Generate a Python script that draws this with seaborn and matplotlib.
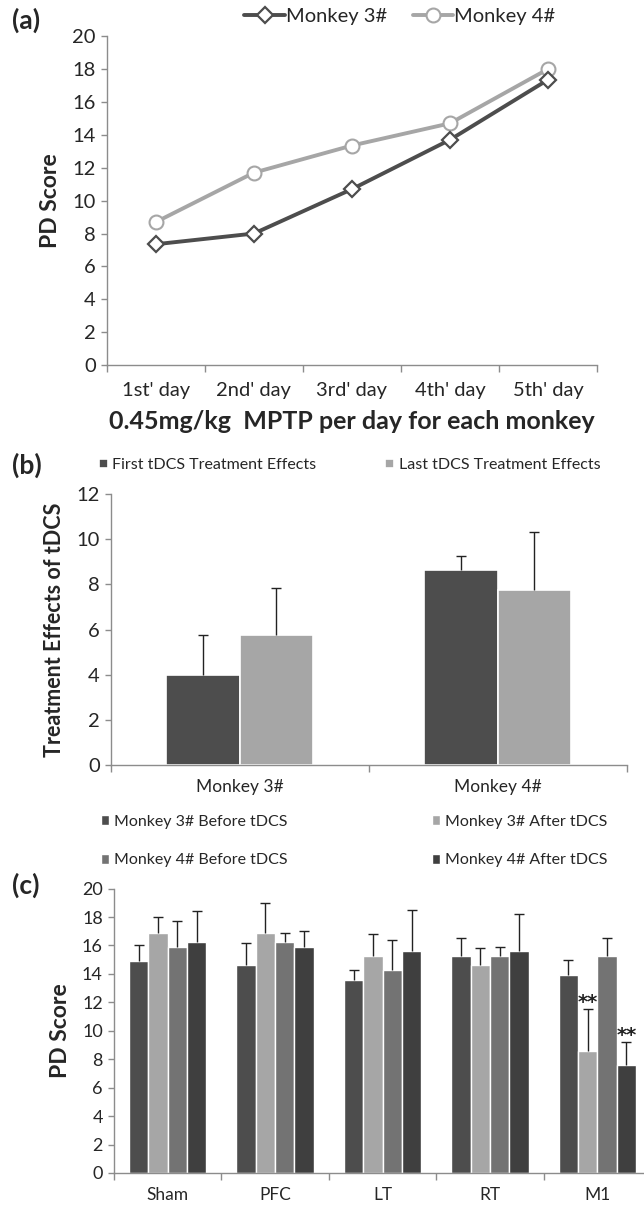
import pandas as pd
import matplotlib
matplotlib.use("Agg")
import matplotlib.pyplot as plt
import seaborn as sns
import numpy as np
from matplotlib.ticker import FixedLocator, MultipleLocator

sns.set_theme(style="white")
plt.rcParams['font.family'] = ['Lato', 'DejaVu Sans']

# --- data: panel (a) ---
days = ["1st' day", "2nd' day", "3rd' day", "4th' day", "5th' day"]
monkey3_pd = [7.35, 8.0, 10.7, 13.7, 17.35]
monkey4_pd = [8.7, 11.7, 13.35, 14.7, 18.0]

# --- data: panel (b) ---
monkeys = ["Monkey 3#", "Monkey 4#"]
first_effect = [4.0, 8.65]
first_err = [1.75, 0.6]
last_effect = [5.75, 7.75]
last_err = [2.07, 2.55]

# --- data: panel (c) ---
sites = ["Sham", "PFC", "LT", "RT", "M1"]
m3_before = [14.9, 14.6, 13.6, 15.25, 13.9]
m3_before_err = [1.1, 1.6, 0.65, 1.25, 1.1]
m3_after = [16.9, 16.9, 15.25, 14.6, 8.6]
m3_after_err = [1.1, 2.1, 1.55, 1.2, 2.9]
m4_before = [15.9, 16.25, 14.25, 15.25, 15.25]
m4_before_err = [1.8, 0.65, 2.15, 0.65, 1.25]
m4_after = [16.25, 15.9, 15.6, 15.6, 7.6]
m4_after_err = [2.15, 1.1, 2.9, 2.6, 1.6]

DARK = "#4d4d4d"
LIGHT = "#a6a6a6"
MID = "#737373"
DARKER = "#3f3f3f"
AXC = "#8c8c8c"


def style_axes(ax, ncat, ysize, xsize, xpad):
    for s in ["top", "right"]:
        ax.spines[s].set_visible(False)
    for s in ["left", "bottom"]:
        ax.spines[s].set_color(AXC)
        ax.spines[s].set_linewidth(1)
    ax.set_xlim(-0.5, ncat - 0.5)
    ax.xaxis.set_minor_locator(FixedLocator(np.arange(-0.5, ncat, 1.0)))
    ax.tick_params(axis="x", which="major", length=0, pad=xpad, labelsize=xsize)
    ax.tick_params(axis="x", which="minor", length=5, color=AXC, width=1, direction="out", bottom=True)
    ax.tick_params(axis="y", which="major", length=4, color=AXC, width=1, direction="out", left=True,
                   labelsize=ysize, pad=4)
    ax.grid(False)


def add_errbars(ax, errs):
    # upper-only error bars; bars come out in hue order, errs listed per hue
    patches = [p for p in ax.patches if p.get_height() > 0]
    flat = [e for hue_errs in errs for e in hue_errs]
    for p, e in zip(patches, flat):
        xc = p.get_x() + p.get_width() / 2
        top = p.get_height() + e
        ax.vlines(xc, p.get_height(), top, color="#222222", lw=1, zorder=3)
        ax.plot([xc], [top], marker="_", markersize=7, mew=1, color="#222222", zorder=3)
    return patches


fig = plt.figure(figsize=(6.44, 12.05), dpi=100)

# ---------------- (a) ----------------
ax1 = fig.add_axes([0.166, 0.697, 0.761, 0.273])
df_a = pd.DataFrame({
    "Day": days * 2,
    "PD": monkey3_pd + monkey4_pd,
    "Monkey": ["Monkey 3#"] * 5 + ["Monkey 4#"] * 5,
})
sns.lineplot(data=df_a[df_a.Monkey == "Monkey 4#"], x="Day", y="PD", ax=ax1, color=LIGHT,
             lw=2.8, marker="o", markersize=10, markerfacecolor="white", markeredgecolor=LIGHT,
             markeredgewidth=1.5, label="Monkey 4#", sort=False)
sns.lineplot(data=df_a[df_a.Monkey == "Monkey 3#"], x="Day", y="PD", ax=ax1, color=DARK,
             lw=2.8, marker="D", markersize=8.5, markerfacecolor="white", markeredgecolor=DARK,
             markeredgewidth=1.6, label="Monkey 3#", sort=False)
style_axes(ax1, len(days), 14.5, 14.5, 12)
ax1.set_ylim(0, 20)
ax1.yaxis.set_major_locator(MultipleLocator(2))
ax1.set_ylabel("PD Score", fontsize=16.5, fontweight="bold", labelpad=8)
ax1.set_xlabel("0.45mg/kg  MPTP per day for each monkey", fontsize=18, fontweight="bold", labelpad=8)
h, l = ax1.get_legend_handles_labels()
ax1.legend(h[::-1], l[::-1], ncol=2, loc="center", bbox_to_anchor=(0.598, 1.06), frameon=False,
           fontsize=14.5, handlelength=2.0, columnspacing=1.3, handletextpad=0.05)

# ---------------- (b) ----------------
ax2 = fig.add_axes([0.172, 0.365, 0.801, 0.225])
df_b = pd.DataFrame({
    "Monkey": monkeys * 2,
    "Effect": first_effect + last_effect,
    "Session": ["First tDCS Treatment Effects"] * 2 + ["Last tDCS Treatment Effects"] * 2,
})
sns.barplot(data=df_b, x="Monkey", y="Effect", hue="Session", ax=ax2,
            palette=[DARK, LIGHT], width=0.57, errorbar=None, edgecolor="white", linewidth=1.2,
            saturation=1)
add_errbars(ax2, [first_err, last_err])
style_axes(ax2, len(monkeys), 14.5, 12.5, 10)
ax2.set_ylim(0, 12)
ax2.yaxis.set_major_locator(MultipleLocator(2))
ax2.set_xlabel("")
ax2.set_ylabel("Treatment Effects of tDCS", fontsize=15.5, fontweight="bold", labelpad=8)
ax2.legend(ncol=2, loc="center", bbox_to_anchor=(0.463, 1.107), frameon=False, fontsize=11.5,
           handlelength=0.55, handleheight=0.55, handletextpad=0.3, columnspacing=4.3)

# ---------------- (c) ----------------
ax3 = fig.add_axes([0.177, 0.0266, 0.834, 0.236])
groups = ["Monkey 3# Before tDCS", "Monkey 3# After tDCS", "Monkey 4# Before tDCS", "Monkey 4# After tDCS"]
df_c = pd.DataFrame({
    "Site": sites * 4,
    "PD": m3_before + m3_after + m4_before + m4_after,
    "Group": [g for g in groups for _ in sites],
})
sns.barplot(data=df_c, x="Site", y="PD", hue="Group", hue_order=groups, ax=ax3,
            palette=[DARK, LIGHT, MID, DARKER], width=0.72, errorbar=None, edgecolor="white",
            linewidth=1.0, saturation=1)
errs_c = [m3_before_err, m3_after_err, m4_before_err, m4_after_err]
bars = add_errbars(ax3, errs_c)
style_axes(ax3, len(sites), 13, 12.5, 10)
ax3.set_ylim(0, 20)
ax3.yaxis.set_major_locator(MultipleLocator(2))
ax3.set_xlabel("")
ax3.set_ylabel("PD Score", fontsize=16.5, fontweight="bold", labelpad=8)

# significance marks on M1 after-tDCS bars
for gi in [1, 3]:
    p = bars[gi * len(sites) + sites.index("M1")]
    top = p.get_height() + errs_c[gi][sites.index("M1")]
    ax3.text(p.get_x() + p.get_width() / 2, top - 0.2, "**", ha="center", va="bottom",
             fontsize=14, fontweight="bold", family="DejaVu Sans", color="#222222")

h, l = ax3.get_legend_handles_labels()
order = [0, 2, 1, 3]
ax3.legend([h[i] for i in order], [l[i] for i in order], ncol=2, loc="center",
           bbox_to_anchor=(0.447, 1.167), frameon=False, fontsize=11.5, handlelength=0.55,
           handleheight=0.55, handletextpad=0.3, columnspacing=9.0, labelspacing=1.55)

# panel letters
fig.text(0.018, 0.983, "(a)", fontsize=19, fontweight="bold", va="center")
fig.text(0.018, 0.614, "(b)", fontsize=19, fontweight="bold", va="center")
fig.text(0.018, 0.265, "(c)", fontsize=19, fontweight="bold", va="center")

fig.savefig("out.png", dpi=100, facecolor="white")
